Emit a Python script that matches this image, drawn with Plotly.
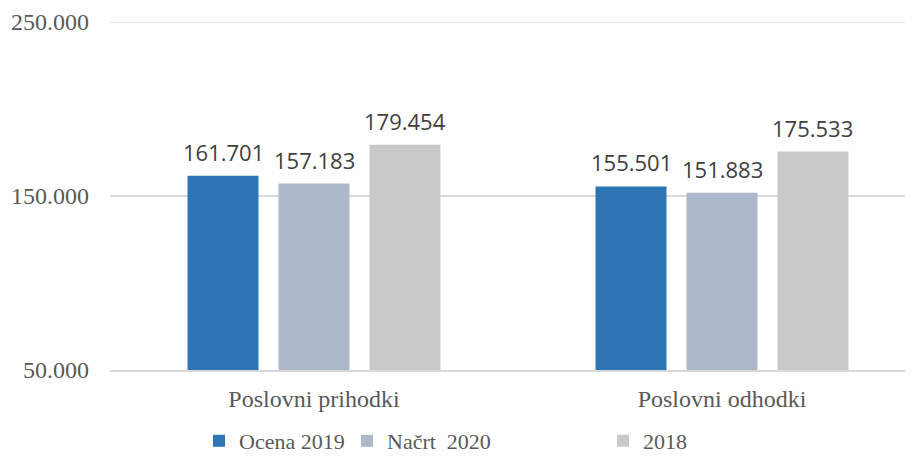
import plotly.graph_objects as go

categories = ["Poslovni prihodki", "Poslovni odhodki"]
series_names = ["Ocena 2019", "Načrt  2020", "2018"]
ocena_2019 = [161701, 155501]
nacrt_2020 = [157183, 151883]
y_2018 = [179454, 175533]
y_ticks = [50000, 150000, 250000]
y_tick_labels = ["50.000", "150.000", "250.000"]

colors = ["#2E75B6", "#ADB9CA", "#C9C9C9"]
values = [ocena_2019, nacrt_2020, y_2018]
legend_ids = ["legend", "legend2", "legend3"]

BARGAP = 0.331
slot = (1 - BARGAP) / len(values)

def fmt(v):
    return f"{v:,}".replace(",", ".")

# page has an 8px body margin: figure drawn 8px right/down
W, H = 905, 448

fig = go.Figure()
annotations = []
for si, (name, vals, col, lid) in enumerate(zip(series_names, values, colors, legend_ids)):
    xs = list(range(len(categories)))
    fig.add_trace(go.Bar(
        x=xs, y=vals, name=name,
        marker=dict(color=col, line=dict(width=0)),
        legend=lid, hoverinfo="y",
    ))
    off = (si - (len(values) - 1) / 2) * slot
    for xi, v in zip(xs, vals):
        annotations.append(dict(
            x=xi + off, y=v, xref="x", yref="y", text=fmt(v),
            showarrow=False, yanchor="bottom", yshift=7,
            font=dict(family="Open Sans", size=22, color="#404040"),
        ))

leg_font = dict(family="Liberation Serif", size=22, color="#595959")
ax_font = dict(family="Liberation Serif", size=24, color="#595959")
legend_common = dict(orientation="h", xref="container", yref="container",
                     yanchor="middle", y=1 - 433 / H, font=leg_font,
                     bgcolor="rgba(0,0,0,0)", itemwidth=30)

# top gridline at the upper edge of the plot area
shapes = [dict(type="line", xref="paper", yref="y", x0=0, x1=1,
               y0=y_ticks[-1], y1=y_ticks[-1],
               line=dict(color="#D9D9D9", width=1.5), layer="below")]

fig.update_layout(
    width=W, height=H,
    margin=dict(l=102, r=0, t=14, b=86),
    paper_bgcolor="white", plot_bgcolor="white",
    barmode="group", bargap=BARGAP, bargroupgap=0.22,
    showlegend=True,
    annotations=annotations,
    shapes=shapes,
    legend=dict(x=(231 - 40) / W, xanchor="left", **legend_common),
    legend2=dict(x=(379 - 40) / W, xanchor="left", **legend_common),
    legend3=dict(x=(635 - 40) / W, xanchor="left", **legend_common),
    xaxis=dict(
        tickmode="array", tickvals=list(range(len(categories))), ticktext=categories,
        range=[-0.5, -0.5 + 803 / 408],
        showgrid=False, zeroline=False,
        showline=True, linecolor="#D9D9D9", linewidth=1.5,
        ticks="", tickfont=ax_font, ticklabelstandoff=6,
    ),
    yaxis=dict(
        range=[50000, 250000], tickmode="array", tickvals=y_ticks, ticktext=y_tick_labels,
        showgrid=True, gridcolor="#D9D9D9", gridwidth=1.5,
        zeroline=False, showline=False, ticks="",
        tickfont=ax_font, ticklabelstandoff=20,
    ),
)

fig.write_html("out.html")
